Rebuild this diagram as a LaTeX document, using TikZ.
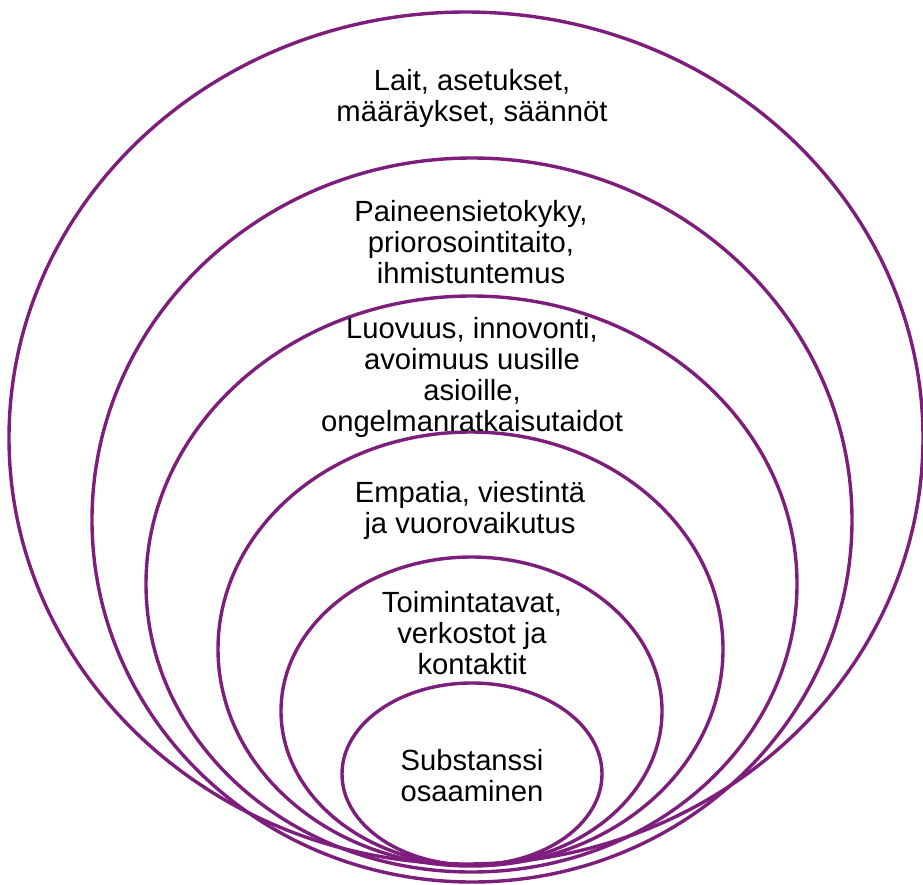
\documentclass[tikz,border=0pt]{standalone}
\usepackage{fontspec}
\setmainfont{Liberation Sans}
\definecolor{ringpurple}{RGB}{125,30,125}
\tikzset{
  ring/.style={draw=ringpurple, line width=3.4pt},
  lbl/.style={align=center, font=\fontsize{29.2}{31}\selectfont, text=black, inner sep=0pt}
}
\begin{document}
\begin{tikzpicture}[x=1pt,y=-1pt]
\useasboundingbox (0,0) rectangle (923,884);
\fill[white] (0,0) rectangle (923,884);
% rings
\draw[ring] (466,438) ellipse [x radius=457pt, y radius=426pt];
\draw[ring] (472,520) ellipse [x radius=380pt, y radius=362pt];
\draw[ring] (471.5,584) ellipse [x radius=325.5pt, y radius=288pt];
\draw[ring] (470.5,649) ellipse [x radius=252.5pt, y radius=217pt];
\draw[ring] (471.5,711) ellipse [x radius=190.5pt, y radius=154pt];
\draw[ring] (472,774) ellipse [x radius=130pt, y radius=91pt];
% labels
\node[lbl] (l1) at (472,98) {Lait, asetukset,\\määräykset, säännöt};
\node[lbl] (l2) at (471,242) {Paineensietokyky,\\priorosointitaito,\\ihmistuntemus};
\node[lbl] (l3) at (472,377) {Luovuus, innovonti,\\avoimuus uusille\\asioille,\\ongelmanratkaisutaidot};
\node[lbl] (l4) at (470,510) {Empatia, viestintä\\ja vuorovaikutus};
\node[lbl] (l5) at (472,633) {Toimintatavat,\\verkostot ja\\kontaktit};
\node[lbl] (l6) at (472,776) {Substanssi\\osaaminen};
\end{tikzpicture}
\end{document}
